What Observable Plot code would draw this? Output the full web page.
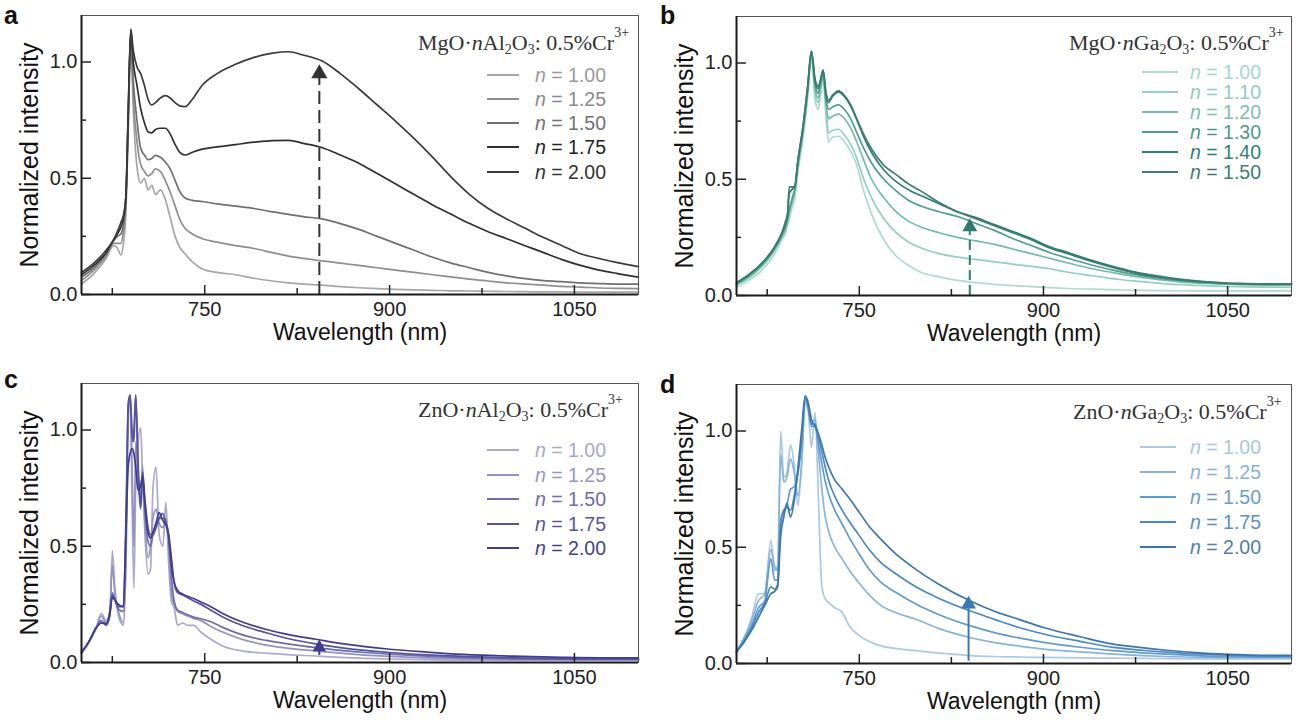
<!DOCTYPE html>
<html><head><meta charset="utf-8">
<script src="https://cdn.jsdelivr.net/npm/d3@7"></script>
<script src="https://cdn.jsdelivr.net/npm/@observablehq/plot@0.6"></script>
<style>
body{margin:0;background:#fff;}
#fig{position:relative;width:1301px;height:720px;overflow:hidden;font-family:"Liberation Sans",Arial,sans-serif;}
.panel{position:absolute;}
.panel svg{position:absolute;left:0;top:0;overflow:visible}
.tag{position:absolute;font-weight:bold;font-size:25px;line-height:1;color:#111}
.ltitle{position:absolute;font-family:"Liberation Serif","Times New Roman",serif;font-size:22px;color:#333;white-space:nowrap;line-height:22px;height:22px}
.ltitle sub{font-size:14px;position:relative;top:4px;vertical-align:baseline;line-height:0}
.ltitle sup{font-size:14px;position:relative;top:-13px;vertical-align:baseline;line-height:0}
.lrow{position:absolute;display:flex;align-items:center;white-space:nowrap;font-size:19.5px;height:20px;line-height:20px}
.sw{display:inline-block;height:0;border-top:2px solid}
</style></head><body><div id="fig"></div><script>
// ---------- shared axes ----------
const xDomain = [650, 1102];
const yDomain = [0, 1.2];
const xMajor = [750, 900, 1050];
const xMinor = [675, 825, 975];
const yMajor = [0, 0.5, 1.0];
const yMinor = [0.25, 0.75];
const xTitle = "Wavelength (nm)";
const yTitle = "Normalized intensity";
const panelTags = ["a", "b", "c", "d"];
const hosts = ["MgO", "MgO", "ZnO", "ZnO"];
const oxides = ["Al", "Ga", "Al", "Ga"];

// ---------- panel a : MgO·nAl2O3 ----------
const aLabels = ["1.00", "1.25", "1.50", "1.75", "2.00"];
const aWl = [650,660,670,676,679,682,684,686,688,690, 692,695,698,701,704,707,710,714,718,722, 726,730,734,740,748,760,775,790,805,818, 830,845,860,875,890,905,920,935,950,965, 980,995,1010,1025,1040,1055,1070,1085,1102];
const a100 = [.045,.09,.155,.21,.2,.17,.22,.35,.72,1.1, .8,.55,.48,.5,.45,.47,.43,.45,.41,.33, .25,.2,.175,.14,.11,.095,.085,.07,.058,.05, .045,.04,.034,.029,.025,.022,.02,.018,.016,.015, .014,.013,.012,.011,.011,.01,.01,.01,.01];
const a125 = [.06,.105,.165,.22,.22,.22,.27,.38,.75,1.12, .85,.66,.56,.53,.51,.52,.54,.53,.49,.44, .38,.32,.285,.26,.24,.225,.21,.198,.18,.165, .155,.145,.135,.125,.115,.105,.095,.085,.076,.066, .058,.05,.045,.04,.035,.032,.028,.026,.025];
const a150 = [.075,.115,.175,.23,.25,.26,.3,.4,.78,1.13, .92,.75,.63,.6,.58,.585,.598,.59,.57,.54, .49,.44,.415,.405,.4,.39,.38,.37,.355,.345, .335,.325,.305,.28,.25,.22,.19,.16,.135,.115, .095,.08,.068,.06,.055,.05,.047,.045,.045];
const a175 = [.085,.125,.18,.235,.26,.29,.33,.42,.8,1.14, 1.0,.9,.8,.74,.7,.695,.71,.715,.715,.69, .645,.61,.6,.612,.625,.635,.645,.655,.662,.663, .65,.632,.6,.565,.52,.475,.43,.385,.345,.305, .27,.24,.21,.18,.15,.125,.105,.09,.075];
const a200 = [.095,.135,.19,.235,.27,.31,.34,.42,.8,1.14, 1.05,.98,.95,.9,.84,.815,.825,.845,.855,.845, .825,.81,.808,.84,.9,.95,.99,1.02,1.038,1.044, 1.03,1.005,.95,.885,.815,.745,.67,.59,.505,.43, .37,.325,.285,.245,.21,.175,.155,.137,.12];

// ---------- panel b : MgO·nGa2O3 ----------
const bLabels = ["1.00", "1.10", "1.20", "1.30", "1.40", "1.50"];
const bWl = [650,660,670,680,687,690,691.5,693,696,697.5, 700,704,708,711,714,716.5,718.5,720.5,723,725, 728,733,738,743,748,753,760,770,780,790, 800,815,830,845,860,875,890,905,920,940, 960,980,1000,1020,1040,1060,1080,1102];
const b100 = [.035,.065,.105,.17,.24,.27,.3,.33,.39,.42, .53,.67,.85,1.03,.84,.8,.86,.93,.76,.66, .68,.685,.66,.62,.56,.46,.35,.24,.17,.13, .1,.08,.065,.055,.048,.043,.038,.034,.03,.027, .024,.022,.021,.02,.02,.02,.02,.02];
const b110 = [.045,.075,.12,.185,.25,.28,.31,.35,.41,.44, .55,.69,.87,1.04,.87,.83,.88,.94,.79,.7, .71,.715,.69,.65,.59,.51,.42,.33,.27,.23, .205,.18,.165,.155,.145,.135,.125,.115,.1,.085, .07,.06,.05,.045,.04,.038,.036,.035];
const b120 = [.048,.08,.125,.19,.255,.29,.32,.36,.42,.45, .56,.7,.88,1.04,.89,.85,.9,.95,.82,.76, .77,.78,.76,.72,.66,.59,.5,.42,.36,.32, .295,.27,.25,.235,.22,.2,.18,.16,.14,.115, .095,.078,.065,.055,.05,.047,.045,.045];
const b130 = [.05,.085,.13,.195,.26,.3,.33,.37,.43,.46, .57,.71,.89,1.05,.91,.87,.92,.96,.84,.8, .81,.82,.8,.76,.7,.64,.57,.5,.45,.41, .385,.36,.34,.31,.28,.245,.215,.185,.16,.13, .105,.085,.07,.06,.053,.05,.048,.048];
const b140 = [.055,.09,.135,.2,.27,.31,.34,.44,.46,.47, .58,.72,.9,1.05,.92,.89,.925,.97,.86,.83, .855,.875,.855,.815,.755,.69,.615,.54,.49,.455, .43,.395,.36,.335,.305,.275,.245,.21,.185,.15, .12,.095,.078,.065,.057,.052,.05,.05];
const b150 = [.055,.09,.135,.2,.27,.32,.35,.467,.467,.47, .58,.72,.9,1.05,.93,.9,.93,.97,.87,.84, .86,.88,.86,.82,.76,.7,.63,.56,.52,.48, .45,.4,.36,.33,.3,.27,.24,.205,.18,.145, .115,.09,.075,.063,.055,.05,.05,.05];

// ---------- panel c : ZnO·nAl2O3 ----------
const cLabels = ["1.00", "1.25", "1.50", "1.75", "2.00"];
const cWl = [650,656,662,666,670,673,675,677,680,684, 686,688,689.5,691,692.5,694,696,698,699.5,701.5, 704,706,708,710.5,713,716,718.5,720.5,723,725, 728,732,736,741,747,755,765,780,800,820, 840,860,880,900,930,960,1000,1040,1070,1102];
const c100 = [.04,.085,.15,.21,.18,.2,.48,.33,.2,.16, .4,1.05,1.15,.7,.32,.75,.95,1.01,.8,.55, .38,.4,.75,.84,.55,.5,.69,.45,.26,.24, .16,.17,.16,.16,.13,.1,.07,.05,.04,.033, .028,.022,.018,.015,.012,.01,.01,.01,.01,.01];
const c125 = [.04,.088,.15,.2,.17,.22,.42,.3,.22,.17, .45,1.1,1.13,.85,.5,.95,.8,.7,.85,.6, .45,.5,.62,.66,.6,.58,.62,.52,.3,.25, .22,.21,.2,.19,.18,.155,.13,.1,.075,.06, .05,.04,.032,.026,.02,.016,.013,.012,.012,.012];
const c150 = [.04,.09,.15,.18,.16,.2,.3,.27,.23,.22, .5,1.1,1.15,.95,1.0,1.15,.8,.66,.8,.65, .52,.5,.55,.6,.62,.62,.6,.55,.37,.27, .225,.215,.205,.195,.188,.175,.15,.12,.095,.078, .064,.052,.043,.036,.027,.021,.016,.014,.013,.013];
const c175 = [.045,.09,.15,.17,.17,.22,.29,.27,.24,.24, .6,1.12,1.15,1.0,.95,1.15,.85,.67,.82,.7, .58,.55,.55,.58,.62,.64,.6,.56,.45,.35, .3,.29,.28,.265,.25,.225,.195,.16,.128,.1, .08,.064,.052,.043,.033,.026,.02,.017,.016,.016];
const c200 = [.045,.09,.15,.17,.165,.21,.28,.27,.25,.24, .55,.85,.9,.92,.9,.84,.74,.76,.8,.68, .56,.535,.56,.6,.645,.61,.59,.55,.42,.35, .31,.295,.285,.275,.26,.24,.21,.175,.142,.118, .1,.082,.068,.057,.045,.035,.027,.022,.02,.02];

// ---------- panel d : ZnO·nGa2O3 ----------
const dLabels = ["1.00", "1.25", "1.50", "1.75", "2.00"];
const dWl = [650,656,662,668,673,678,681,683.5,686,688.5, 691,694,697,700,703,706,708.5,711,714,716.5, 719.5,722,725.5,730,736,742,750,758,767.5,780, 796,815,840,860,880,900,930,957,980,1000, 1030,1060,1080,1102];
const d100 = [.055,.11,.19,.3,.3,.53,.4,.42,1.0,.8, .82,.94,.85,.68,.85,1.12,1.08,.93,1.08,.75, .33,.28,.26,.24,.22,.16,.12,.095,.076,.064, .055,.045,.034,.03,.028,.026,.024,.023,.022,.021, .02,.02,.02,.02];
const d125 = [.055,.105,.18,.27,.3,.49,.42,.4,.9,.78, .8,.88,.82,.72,.86,1.14,1.1,1.03,1.05,.92, .75,.64,.56,.5,.45,.4,.345,.295,.25,.218, .19,.15,.112,.09,.075,.062,.05,.04,.034,.03, .027,.025,.025,.025];
const d150 = [.05,.1,.16,.24,.27,.45,.36,.36,.62,.65, .68,.75,.76,.82,.95,1.15,1.1,1.02,1.02,.95, .86,.79,.72,.66,.6,.54,.47,.405,.35,.305, .256,.21,.163,.133,.11,.091,.07,.055,.046,.04, .033,.03,.028,.028];
const d175 = [.05,.095,.15,.22,.26,.33,.32,.34,.6,.66, .67,.66,.72,.82,.96,1.15,1.1,1.03,1.03,.98, .91,.85,.78,.72,.66,.61,.55,.49,.435,.385, .33,.28,.227,.19,.155,.127,.095,.069,.057,.049, .04,.035,.032,.032];
const d200 = [.05,.09,.14,.2,.25,.3,.31,.33,.55,.63, .69,.63,.7,.84,1.0,1.15,1.12,1.05,1.02,.99, .94,.89,.84,.79,.75,.71,.65,.59,.535,.47, .405,.34,.27,.225,.19,.155,.115,.083,.068,.057, .045,.038,.035,.035];

// ---------- arrows (wavelength, start and end intensity) ----------
const arrowX = [843, 840, 843, 839];
const arrowY1 = [0, 0, 0.03, 0.01];
const arrowY2 = [0.95, 0.295, 0.065, 0.255];

// ---------- styles ----------
const palettes = [
  ["#a6a6a6", "#8e8e8e", "#707070", "#303030", "#3a3a3a"],
  ["#acdcd0", "#92cfc0", "#72bba9", "#509d8c", "#2d8172", "#3c7b6f"],
  ["#aaa9cf", "#9391c3", "#6f6dae", "#55529f", "#403e8c"],
  ["#aac9e3", "#89b4da", "#619bce", "#4b89c2", "#3b76b0"]
];
const textPalettes = [
  ["#9a9a9a", "#8a8a8a", "#727272", "#222222", "#333333"],
  ["#a6d6ca", "#93cbbd", "#7cbdad", "#4e9a89", "#2e8272", "#3e7d70"],
  ["#a9a8cc", "#9896c4", "#6e6cab", "#5653a0", "#44428a"],
  ["#a7c6e0", "#89b2d6", "#6a9ccc", "#5a8fc4", "#4f7eb5"]
];
const arrowColors = ["#333333", "#2c7d6e", "#3f3d8c", "#3b78b8"];
const layouts = [
  {left: 0, top: 0, width: 650, height: 360, mt: 15, mr: 12, mb: 66, ml: 81, tagX: 4, tagY: 3,
   title: [418, 32], rows: [75, 99, 123, 147.3, 171.7], swX: 487, swW: 32, gap: 16, dash: "13,6", r: 6},
  {left: 650, top: 0, width: 651, height: 360, mt: 16, mr: 10, mb: 65, ml: 86, tagX: 10, tagY: 3,
   title: [419, 32], rows: [71.5, 91.5, 111.5, 131.5, 151.5, 171.5], swX: 492, swW: 36, gap: 12, dash: "10,5", r: 5.5},
  {left: 0, top: 360, width: 650, height: 360, mt: 23, mr: 12, mb: 58, ml: 81, tagX: 4, tagY: 7,
   title: [418, 39], rows: [90, 114.6, 139.2, 163.8, 188.4], swX: 487, swW: 32, gap: 16, dash: "4,3", r: 5},
  {left: 650, top: 360, width: 651, height: 360, mt: 24, mr: 10, mb: 57, ml: 86, tagX: 10, tagY: 12,
   title: [423, 41], rows: [87.3, 112.2, 137, 161.8, 186.7], swX: 490, swW: 36, gap: 14, dash: null, r: 5.5}
];

const panels = [
  {wl: aWl, series: [a100, a125, a150, a175, a200], labels: aLabels},
  {wl: bWl, series: [b100, b110, b120, b130, b140, b150], labels: bLabels},
  {wl: cWl, series: [c100, c125, c150, c175, c200], labels: cLabels},
  {wl: dWl, series: [d100, d125, d150, d175, d200], labels: dLabels}
];

const fig = document.getElementById("fig");
const font = "'Liberation Sans', Arial, sans-serif";

panels.forEach((p, i) => {
  const L = layouts[i];
  const rows = [];
  p.series.forEach((ys, s) => ys.forEach((y, j) => rows.push({wl: p.wl[j], y, n: p.labels[s]})));
  const arrow = [{x: arrowX[i], y1: arrowY1[i], y2: arrowY2[i]}];
  const col = arrowColors[i];

  const svg = Plot.plot({
    width: L.width, height: L.height,
    marginTop: L.mt, marginRight: L.mr, marginBottom: L.mb, marginLeft: L.ml,
    style: {fontFamily: font, fontSize: "20px", color: "#222", background: "transparent", overflow: "visible"},
    x: {domain: xDomain, label: null},
    y: {domain: yDomain, label: null},
    color: {domain: p.labels, range: palettes[i]},
    marks: [
      Plot.line(rows, {x: "wl", y: "y", z: "n", stroke: "n", strokeWidth: 1.7, curve: "monotone-x"}),
      Plot.ruleX(arrow, {x: "x", y1: "y1", y2: "y2", stroke: col, strokeWidth: 2, strokeDasharray: L.dash}),
      Plot.dot([{x: arrowX[i], y: arrowY2[i]}], {x: "x", y: "y", symbol: "triangle", r: L.r, fill: col, stroke: "none"}),
      Plot.frame({stroke: "#555", strokeWidth: 1}),
      Plot.ruleY([yDomain[0]], {stroke: "#1a1a1a", strokeWidth: 2}),
      Plot.ruleX([xDomain[0]], {stroke: "#1a1a1a", strokeWidth: 2}),
      Plot.axisX(xMajor, {tickSize: -9, tickPadding: 16, strokeWidth: 1.5, tickFormat: d => String(d), fill: "#222"}),
      Plot.axisX(xMinor, {tickSize: -6, strokeWidth: 1.5, tickFormat: () => ""}),
      Plot.axisY(yMajor, {tickSize: -10, tickPadding: 14, strokeWidth: 1.5, tickFormat: d3.format(".1f"), fill: "#222"}),
      Plot.axisY(yMinor, {tickSize: -5, strokeWidth: 1.5, tickFormat: () => ""}),
      Plot.text([xTitle], {text: d => d, frameAnchor: "bottom", textAnchor: "middle", lineAnchor: "top", dy: 29, fontSize: 23, fill: "#111"}),
      Plot.text([yTitle], {text: d => d, frameAnchor: "left", textAnchor: "middle", lineAnchor: "middle", rotate: -90, dx: -52, fontSize: 25, fill: "#111"})
    ]
  });

  const box = document.createElement("div");
  box.className = "panel";
  Object.assign(box.style, {left: L.left + "px", top: L.top + "px", width: L.width + "px", height: L.height + "px"});
  box.appendChild(svg);

  const tag = document.createElement("div");
  tag.className = "tag";
  tag.textContent = panelTags[i];
  Object.assign(tag.style, {left: L.tagX + "px", top: L.tagY + "px"});
  box.appendChild(tag);

  const t = document.createElement("div");
  t.className = "ltitle";
  t.innerHTML = `${hosts[i]}·<i>n</i>${oxides[i]}<sub>2</sub>O<sub>3</sub>: 0.5%Cr<sup>3+</sup>`;
  Object.assign(t.style, {left: L.title[0] + "px", top: L.title[1] + "px"});
  box.appendChild(t);

  p.labels.forEach((lab, k) => {
    const r = document.createElement("div");
    r.className = "lrow";
    Object.assign(r.style, {left: L.swX + "px", top: (L.rows[k] - 10) + "px", color: textPalettes[i][k]});
    const sw = document.createElement("span");
    sw.className = "sw";
    Object.assign(sw.style, {width: L.swW + "px", marginRight: L.gap + "px", borderTopColor: palettes[i][k]});
    r.appendChild(sw);
    const tx = document.createElement("span");
    tx.innerHTML = `<i>n</i> = ${lab}`;
    r.appendChild(tx);
    box.appendChild(r);
  });

  fig.appendChild(box);
});
</script></body></html>
